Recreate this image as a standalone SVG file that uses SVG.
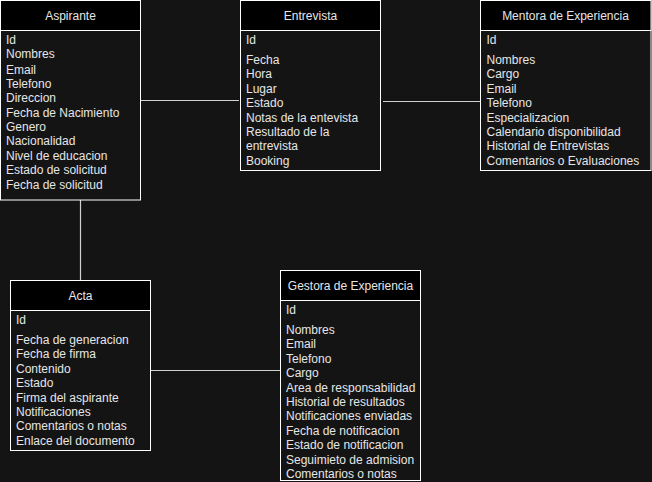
<svg xmlns="http://www.w3.org/2000/svg" width="652" height="482" viewBox="0 0 652 482">
<style>
.bg{fill:#141414}
.hdr{fill:#000;stroke:#fff;stroke-width:1}
.body{fill:#141414;stroke:#fff;stroke-width:1}
.t{font-family:"Liberation Sans",Arial,sans-serif;font-size:12px;fill:#e6e6e6}
.h{text-anchor:middle}
.c{stroke:#d0d0d0;stroke-width:1.2;fill:none}
</style>
<rect class="bg" x="0" y="0" width="652" height="482"/>
<g id="connectors">
<line class="c" x1="140.5" y1="100.5" x2="239" y2="100.5"/>
<line class="c" x1="383" y1="101.5" x2="480.5" y2="101.5"/>
<line class="c" x1="80.5" y1="200" x2="80.5" y2="280.5"/>
<line class="c" x1="150.5" y1="370.5" x2="280.5" y2="370.5"/>
</g>
<g id="aspirante">
<rect class="body" x="0.5" y="0.5" width="140" height="199.5"/>
<rect class="hdr" x="0.5" y="0.5" width="140" height="30"/>
<text class="t h" x="70.5" y="19.5">Aspirante</text>
<text class="t" x="6" y="44">Id</text>
<text class="t" x="6" y="58">Nombres</text>
<text class="t" x="6" y="74">Email</text>
<text class="t" x="6" y="88">Telefono</text>
<text class="t" x="6" y="102">Direccion</text>
<text class="t" x="6" y="117">Fecha de Nacimiento</text>
<text class="t" x="6" y="131">Genero</text>
<text class="t" x="6" y="145">Nacionalidad</text>
<text class="t" x="6" y="160">Nivel de educacion</text>
<text class="t" x="6" y="174">Estado de solicitud</text>
<text class="t" x="6" y="188.5">Fecha de solicitud</text>
</g>
<g id="entrevista">
<rect class="body" x="240.5" y="0.5" width="140" height="170"/>
<rect class="hdr" x="240.5" y="0.5" width="140" height="30"/>
<text class="t h" x="310.5" y="19.5">Entrevista</text>
<text class="t" x="246" y="44">Id</text>
<text class="t" x="246" y="64">Fecha</text>
<text class="t" x="246" y="78.4">Hora</text>
<text class="t" x="246" y="92.8">Lugar</text>
<text class="t" x="246" y="107.2">Estado</text>
<text class="t" x="246" y="121.6">Notas de la entevista</text>
<text class="t" x="246" y="136">Resultado de la</text>
<text class="t" x="246" y="150.4">entrevista</text>
<text class="t" x="246" y="164.8">Booking</text>
</g>
<g id="mentora">
<rect class="body" x="480.5" y="0.5" width="170.5" height="170"/>
<rect class="hdr" x="480.5" y="0.5" width="170.5" height="30"/>
<text class="t h" x="565.5" y="19.5">Mentora de Experiencia</text>
<text class="t" x="486.5" y="44">Id</text>
<text class="t" x="486.5" y="64">Nombres</text>
<text class="t" x="486.5" y="78.4">Cargo</text>
<text class="t" x="486.5" y="92.8">Email</text>
<text class="t" x="486.5" y="107.2">Telefono</text>
<text class="t" x="486.5" y="121.6">Especializacion</text>
<text class="t" x="486.5" y="136">Calendario disponibilidad</text>
<text class="t" x="486.5" y="150.4">Historial de Entrevistas</text>
<text class="t" x="486.5" y="164.8">Comentarios o Evaluaciones</text>
</g>
<g id="acta">
<rect class="body" x="10.5" y="280.5" width="140" height="170"/>
<rect class="hdr" x="10.5" y="280.5" width="140" height="30"/>
<text class="t h" x="80.5" y="299.5">Acta</text>
<text class="t" x="16" y="324">Id</text>
<text class="t" x="16" y="344">Fecha de generacion</text>
<text class="t" x="16" y="358.4">Fecha de firma</text>
<text class="t" x="16" y="372.8">Contenido</text>
<text class="t" x="16" y="387.2">Estado</text>
<text class="t" x="16" y="401.6">Firma del aspirante</text>
<text class="t" x="16" y="416">Notificaciones</text>
<text class="t" x="16" y="430.4">Comentarios o notas</text>
<text class="t" x="16" y="444.8">Enlace del documento</text>
</g>
<g id="gestora">
<rect class="body" x="280.5" y="270.5" width="140" height="210"/>
<rect class="hdr" x="280.5" y="270.5" width="140" height="30"/>
<text class="t h" x="350.5" y="289.5">Gestora de Experiencia</text>
<text class="t" x="286" y="314">Id</text>
<text class="t" x="286" y="334">Nombres</text>
<text class="t" x="286" y="348.4">Email</text>
<text class="t" x="286" y="362.8">Telefono</text>
<text class="t" x="286" y="377.2">Cargo</text>
<text class="t" x="286" y="391.6">Area de responsabilidad</text>
<text class="t" x="286" y="406">Historial de resultados</text>
<text class="t" x="286" y="420.4">Notificaciones enviadas</text>
<text class="t" x="286" y="434.8">Fecha de notificacion</text>
<text class="t" x="286" y="449.2">Estado de notificacion</text>
<text class="t" x="286" y="463.6">Seguimieto de admision</text>
<text class="t" x="286" y="477.5">Comentarios o notas</text>
</g>
</svg>
